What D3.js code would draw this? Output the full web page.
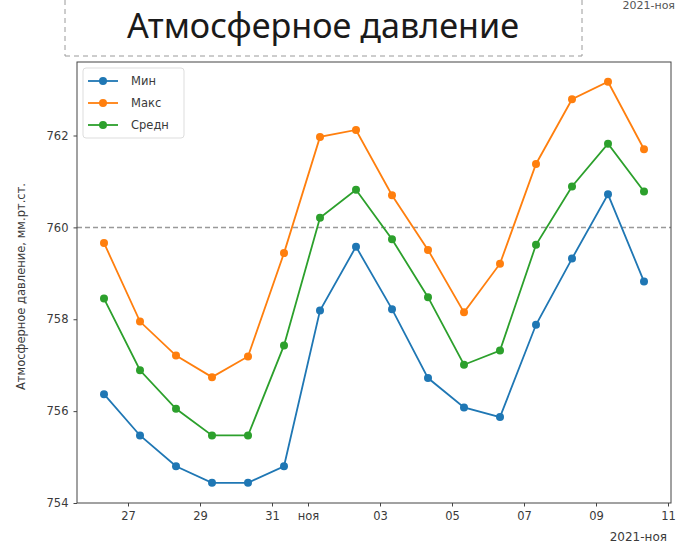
<!DOCTYPE html>
<html>
<head>
<meta charset="utf-8">
<script src="https://cdn.jsdelivr.net/npm/d3@7"></script>
<style>
  html, body { margin: 0; padding: 0; background: #fff; }
  svg { display: block; }
</style>
</head>
<body>
<svg id="chart" width="680" height="545"></svg>
<script>
// ---- data ----
const dates = [
  "2021-10-26 08:00","2021-10-27 08:00","2021-10-28 08:00","2021-10-29 08:00",
  "2021-10-30 08:00","2021-10-31 08:00","2021-11-01 08:00","2021-11-02 08:00",
  "2021-11-03 08:00","2021-11-04 08:00","2021-11-05 08:00","2021-11-06 08:00",
  "2021-11-07 08:00","2021-11-08 08:00","2021-11-09 08:00","2021-11-10 08:00"
];
const minVals = [756.37, 755.47, 754.80, 754.44, 754.44, 754.80, 758.19, 759.58, 758.22, 756.72, 756.08, 755.87, 757.88, 759.32, 760.72, 758.82];
const maxVals = [759.66, 757.95, 757.21, 756.74, 757.19, 759.44, 761.97, 762.12, 760.70, 759.51, 758.15, 759.21, 761.38, 762.79, 763.17, 761.70];
const avgVals = [758.45, 756.89, 756.05, 755.47, 755.47, 757.43, 760.21, 760.82, 759.74, 758.48, 757.01, 757.32, 759.62, 760.89, 761.82, 760.78];
const seriesNames = ["Мин", "Макс", "Средн"];
const seriesColors = ["#1f77b4", "#ff7f0e", "#2ca02c"];
const yTicks = [754, 756, 758, 760, 762];
const xTickDates = ["2021-10-27","2021-10-29","2021-10-31","2021-11-01","2021-11-03","2021-11-05","2021-11-07","2021-11-09","2021-11-11"];
const xTickLabels = ["27","29","31","ноя","03","05","07","09","11"];
const refLine = 760;
const title = "Атмосферное давление";
const yLabel = "Атмосферное давление, мм.рт.ст.";
const offsetLabel = "2021-ноя";

// ---- setup ----
const parse = d3.timeParse("%Y-%m-%d %H:%M");
const parseDay = d3.timeParse("%Y-%m-%d");
const xs = dates.map(parse);
const svg = d3.select("#chart");
const plot = { left: 77, right: 671, top: 62, bottom: 503 };

const pad = 0.75 * 24 * 3600 * 1000;
const x = d3.scaleTime()
  .domain([new Date(+xs[0] - pad), new Date(+xs[xs.length - 1] + pad)])
  .range([plot.left, plot.right]);
const y = d3.scaleLinear().domain([754.0, 763.6]).range([plot.bottom, plot.top]);

const font = "'DejaVu Sans', sans-serif";
const fs = 11.5;
const textColor = "#3a3a3a";

// ---- title box ----
const box = svg.append("g").attr("stroke", "#9a9a9a").attr("stroke-width", 1).attr("stroke-dasharray", "5,4").attr("fill", "none");
box.append("line").attr("x1", 65).attr("x2", 65).attr("y1", 0).attr("y2", 56);
box.append("line").attr("x1", 65).attr("x2", 582).attr("y1", 56).attr("y2", 56);
box.append("line").attr("x1", 582).attr("x2", 582).attr("y1", 0).attr("y2", 56);

const t = svg.append("text")
  .attr("x", 323).attr("y", 38)
  .attr("text-anchor", "middle")
  .attr("font-family", "'Noto Sans', 'Open Sans', sans-serif")
  .attr("font-size", 33)
  .attr("fill", "#1a1a1a")
  .text(title);
const tw = t.node().getComputedTextLength();
t.attr("font-size", 33 * 392 / tw);

// offset label from neighbouring chart at top right
svg.append("text")
  .attr("x", 675).attr("y", 9)
  .attr("text-anchor", "end")
  .attr("font-family", font).attr("font-size", 11)
  .attr("fill", "#555")
  .text(offsetLabel);

// ---- axes ----
const xAxis = d3.axisBottom(x)
  .tickValues(xTickDates.map(parseDay))
  .tickFormat((d, i) => xTickLabels[i])
  .tickSize(3.5).tickPadding(5);
const gx = svg.append("g").attr("transform", `translate(0,${plot.bottom})`).call(xAxis);
gx.select(".domain").remove();
gx.selectAll("line").attr("stroke", "#444");
gx.selectAll("text").attr("font-family", font).attr("font-size", fs).attr("fill", textColor);

const yAxis = d3.axisLeft(y).tickValues(yTicks).tickFormat(d3.format("d")).tickSize(3.5).tickPadding(5);
const gy = svg.append("g").attr("transform", `translate(${plot.left},0)`).call(yAxis);
gy.select(".domain").remove();
gy.selectAll("line").attr("stroke", "#444");
gy.selectAll("text").attr("font-family", font).attr("font-size", fs).attr("fill", textColor);

svg.append("text")
  .attr("transform", `translate(25,${(plot.top + plot.bottom) / 2 + 4}) rotate(-90)`)
  .attr("text-anchor", "middle")
  .attr("font-family", font).attr("font-size", fs).attr("fill", textColor)
  .text(yLabel);

svg.append("text")
  .attr("x", plot.right - 4).attr("y", 541)
  .attr("text-anchor", "end")
  .attr("font-family", font).attr("font-size", fs + 0.5).attr("fill", textColor)
  .text(offsetLabel);

// ---- reference line ----
svg.append("line")
  .attr("x1", plot.left).attr("x2", plot.right)
  .attr("y1", y(refLine)).attr("y2", y(refLine))
  .attr("stroke", "#999").attr("stroke-width", 1.5).attr("stroke-dasharray", "5,3");

// ---- series ----
const allSeries = [minVals, maxVals, avgVals];
const line = d3.line().x((d, i) => x(xs[i])).y(d => y(d));
allSeries.forEach((vals, k) => {
  const g = svg.append("g");
  g.append("path").datum(vals).attr("d", line)
    .attr("fill", "none").attr("stroke", seriesColors[k]).attr("stroke-width", 1.8);
  g.selectAll("circle").data(vals).join("circle")
    .attr("cx", (d, i) => x(xs[i])).attr("cy", d => y(d)).attr("r", 4)
    .attr("fill", seriesColors[k]);
});

// ---- frame ----
svg.append("rect")
  .attr("x", plot.left).attr("y", plot.top)
  .attr("width", plot.right - plot.left).attr("height", plot.bottom - plot.top)
  .attr("fill", "none").attr("stroke", "#444").attr("stroke-width", 1);

// ---- legend ----
const lg = svg.append("g");
lg.append("rect").attr("x", 83).attr("y", 68).attr("width", 101).attr("height", 70)
  .attr("rx", 3).attr("fill", "#fff").attr("fill-opacity", 0.8)
  .attr("stroke", "#ddd").attr("stroke-width", 1);
seriesNames.forEach((name, k) => {
  const yy = 81 + k * 22;
  lg.append("line").attr("x1", 88).attr("x2", 118).attr("y1", yy).attr("y2", yy)
    .attr("stroke", seriesColors[k]).attr("stroke-width", 1.8);
  lg.append("circle").attr("cx", 103).attr("cy", yy).attr("r", 4).attr("fill", seriesColors[k]);
  lg.append("text").attr("x", 131).attr("y", yy + 4)
    .attr("font-family", font).attr("font-size", fs).attr("fill", textColor).text(name);
});
</script>
</body>
</html>
